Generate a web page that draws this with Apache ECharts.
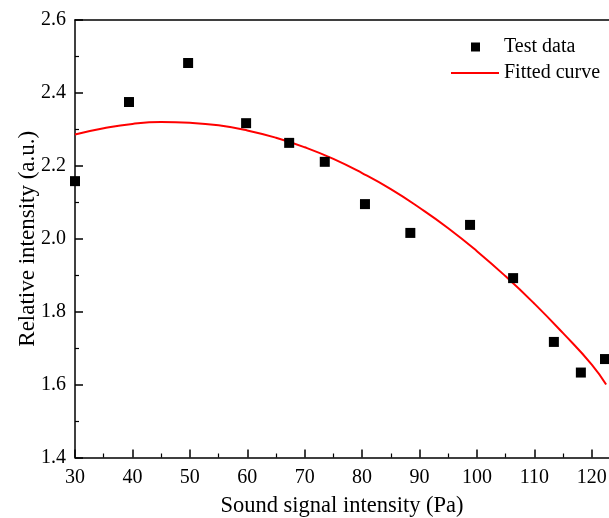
<!DOCTYPE html>
<html>
<head>
<meta charset="utf-8">
<script src="https://cdn.jsdelivr.net/npm/echarts@6/dist/echarts.min.js"></script>
<style>html,body{margin:0;padding:0;background:#fff;}#c{width:609px;height:518px;}</style>
</head>
<body>
<div id="c"></div>
<script>
// Test data
const testX = [30.0, 39.4, 49.7, 59.8, 67.3, 73.5, 80.5, 88.4, 98.8, 106.3, 113.4, 118.1, 122.3];
const testY = [2.158, 2.375, 2.482, 2.317, 2.263, 2.211, 2.095, 2.016, 2.038, 1.892, 1.717, 1.633, 1.670];
// Fitted curve
const fitX = [30, 35, 40, 45, 50, 55, 60, 65, 70, 75, 80, 85, 90, 95, 100, 105, 110, 115, 120, 122.5];
const fitY = [2.286, 2.303, 2.315, 2.320, 2.318, 2.311, 2.297, 2.277, 2.251, 2.219, 2.180, 2.136, 2.085, 2.029, 1.966, 1.897, 1.822, 1.741, 1.655, 1.600];
const xTicks = [30, 40, 50, 60, 70, 80, 90, 100, 110, 120];
const yTicks = [1.4, 1.6, 1.8, 2.0, 2.2, 2.4, 2.6];

const FONT = '"Liberation Serif", "Times New Roman", serif';
const chart = echarts.init(document.getElementById('c'), null, {renderer: 'canvas'});
const axisLineStyle = {color: '#000', width: 1.5};
chart.setOption({
  animation: false,
  backgroundColor: '#fff',
  grid: {left: 75, top: 20, bottom: 60.5, right: 0, containLabel: false, outerBoundsMode: 'none'},
  legend: [
    {
      data: ['Test data'], left: 466, top: 32, orient: 'vertical',
      icon: 'rect', itemWidth: 9, itemHeight: 9,
      textStyle: {fontFamily: FONT, fontSize: 20, color: '#000', padding: [0, 0, 0, 19]}
    },
    {
      data: ['Fitted curve'], left: 446, top: 58, orient: 'vertical',
      icon: 'rect', itemWidth: 48, itemHeight: 2,
      textStyle: {fontFamily: FONT, fontSize: 20, color: '#000'}
    }
  ],
  xAxis: [
    {
      type: 'value', min: 30, max: 123, interval: 10,
      name: 'Sound signal intensity (Pa)', nameLocation: 'middle', nameGap: 37,
      nameMoveOverlap: false,
      nameTextStyle: {fontFamily: FONT, fontSize: 22.5, color: '#000'},
      axisLine: {show: true, onZero: false, lineStyle: axisLineStyle},
      axisTick: {show: true, inside: true, length: 8, lineStyle: {color: '#000', width: 1.5},
        customValues: xTicks},
      minorTick: {show: true, splitNumber: 2, length: 4, lineStyle: {color: '#000', width: 1.2}},
      axisLabel: {fontFamily: FONT, fontSize: 20, color: '#000', margin: 10, customValues: xTicks},
      splitLine: {show: false}
    },
    {
      type: 'value', position: 'top', min: 30, max: 123,
      axisLine: {show: true, onZero: false, lineStyle: axisLineStyle},
      axisTick: {show: false}, axisLabel: {show: false}, splitLine: {show: false}
    }
  ],
  yAxis: {
    type: 'value', min: 1.4, max: 2.6, interval: 0.2,
    name: 'Relative intensity (a.u.)', nameLocation: 'middle', nameGap: 36,
    nameMoveOverlap: false,
    nameTextStyle: {fontFamily: FONT, fontSize: 23, color: '#000'},
    axisLine: {show: true, onZero: false, lineStyle: axisLineStyle},
    axisTick: {show: true, inside: true, length: 8, lineStyle: {color: '#000', width: 1.5}},
    minorTick: {show: true, splitNumber: 2, length: 4, lineStyle: {color: '#000', width: 1.2}},
    axisLabel: {fontFamily: FONT, fontSize: 20, color: '#000', margin: 9,
      formatter: v => v.toFixed(1)},
    splitLine: {show: false}
  },
  series: [
    {
      name: 'Test data', type: 'scatter', symbol: 'rect', symbolSize: 10,
      itemStyle: {color: '#000', opacity: 1},
      data: testX.map((x, i) => [x, testY[i]]),
      z: 3
    },
    {
      name: 'Fitted curve', type: 'line', smooth: true, showSymbol: false, symbol: 'none',
      lineStyle: {color: '#ff0000', width: 2}, itemStyle: {color: '#ff0000'},
      data: fitX.map((x, i) => [x, fitY[i]]),
      z: 2
    }
  ]
});
</script>
</body>
</html>
